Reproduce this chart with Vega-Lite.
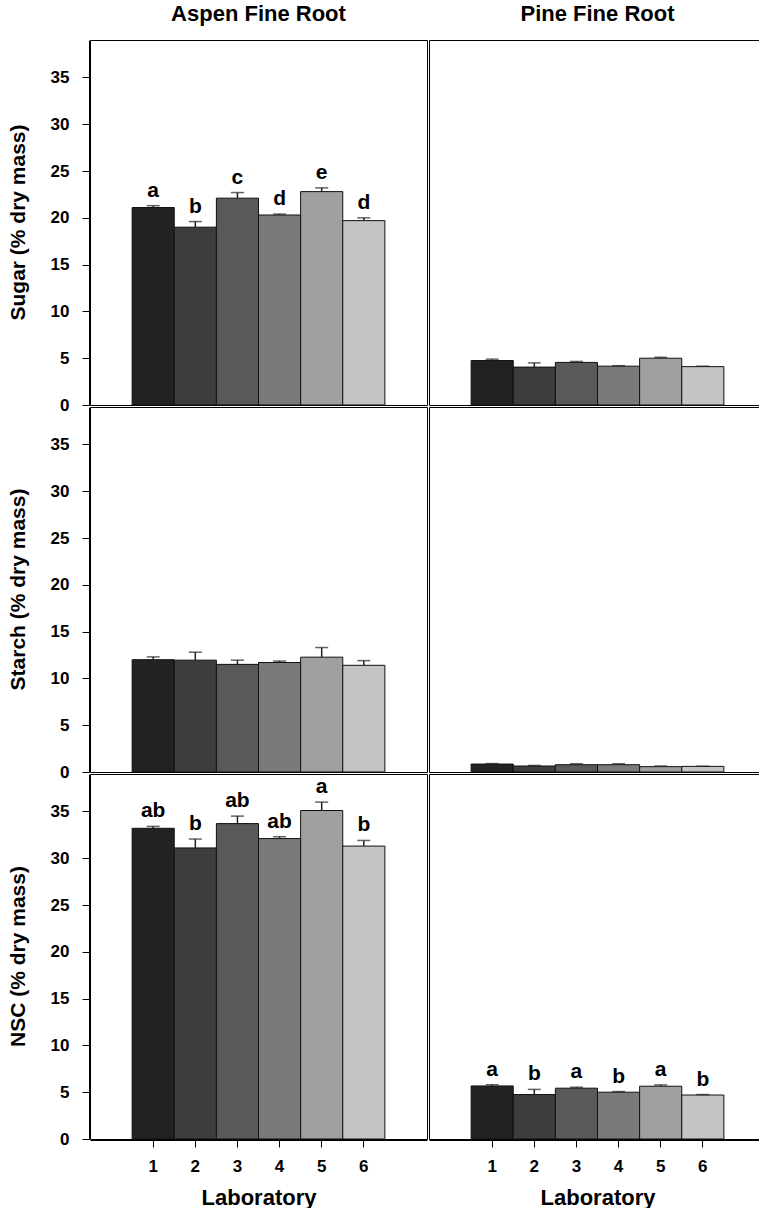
{
  "$schema": "https://vega.github.io/schema/vega-lite/v6.json",
  "padding": {"left": 8, "top": 3, "right": 0, "bottom": 0},
  "background": "white",
  "data": {"values": [
    {"measure": "Sugar (% dry mass)", "tissue": "Aspen Fine Root", "lab": "1", "value": 21.1, "err": 21.3, "letter": "a"},
    {"measure": "Sugar (% dry mass)", "tissue": "Aspen Fine Root", "lab": "2", "value": 19.0, "err": 19.6, "letter": "b"},
    {"measure": "Sugar (% dry mass)", "tissue": "Aspen Fine Root", "lab": "3", "value": 22.1, "err": 22.7, "letter": "c"},
    {"measure": "Sugar (% dry mass)", "tissue": "Aspen Fine Root", "lab": "4", "value": 20.3, "err": 20.4, "letter": "d"},
    {"measure": "Sugar (% dry mass)", "tissue": "Aspen Fine Root", "lab": "5", "value": 22.8, "err": 23.2, "letter": "e"},
    {"measure": "Sugar (% dry mass)", "tissue": "Aspen Fine Root", "lab": "6", "value": 19.7, "err": 20.0, "letter": "d"},
    {"measure": "Sugar (% dry mass)", "tissue": "Pine Fine Root", "lab": "1", "value": 4.75, "err": 4.9, "letter": ""},
    {"measure": "Sugar (% dry mass)", "tissue": "Pine Fine Root", "lab": "2", "value": 4.05, "err": 4.5, "letter": ""},
    {"measure": "Sugar (% dry mass)", "tissue": "Pine Fine Root", "lab": "3", "value": 4.55, "err": 4.65, "letter": ""},
    {"measure": "Sugar (% dry mass)", "tissue": "Pine Fine Root", "lab": "4", "value": 4.15, "err": 4.2, "letter": ""},
    {"measure": "Sugar (% dry mass)", "tissue": "Pine Fine Root", "lab": "5", "value": 5.0, "err": 5.1, "letter": ""},
    {"measure": "Sugar (% dry mass)", "tissue": "Pine Fine Root", "lab": "6", "value": 4.1, "err": 4.15, "letter": ""},
    {"measure": "Starch (% dry mass)", "tissue": "Aspen Fine Root", "lab": "1", "value": 12.0, "err": 12.3, "letter": ""},
    {"measure": "Starch (% dry mass)", "tissue": "Aspen Fine Root", "lab": "2", "value": 11.95, "err": 12.8, "letter": ""},
    {"measure": "Starch (% dry mass)", "tissue": "Aspen Fine Root", "lab": "3", "value": 11.5, "err": 11.95, "letter": ""},
    {"measure": "Starch (% dry mass)", "tissue": "Aspen Fine Root", "lab": "4", "value": 11.7, "err": 11.85, "letter": ""},
    {"measure": "Starch (% dry mass)", "tissue": "Aspen Fine Root", "lab": "5", "value": 12.27, "err": 13.3, "letter": ""},
    {"measure": "Starch (% dry mass)", "tissue": "Aspen Fine Root", "lab": "6", "value": 11.4, "err": 11.9, "letter": ""},
    {"measure": "Starch (% dry mass)", "tissue": "Pine Fine Root", "lab": "1", "value": 0.85, "err": 0.9, "letter": ""},
    {"measure": "Starch (% dry mass)", "tissue": "Pine Fine Root", "lab": "2", "value": 0.64, "err": 0.7, "letter": ""},
    {"measure": "Starch (% dry mass)", "tissue": "Pine Fine Root", "lab": "3", "value": 0.78, "err": 0.88, "letter": ""},
    {"measure": "Starch (% dry mass)", "tissue": "Pine Fine Root", "lab": "4", "value": 0.78, "err": 0.88, "letter": ""},
    {"measure": "Starch (% dry mass)", "tissue": "Pine Fine Root", "lab": "5", "value": 0.57, "err": 0.64, "letter": ""},
    {"measure": "Starch (% dry mass)", "tissue": "Pine Fine Root", "lab": "6", "value": 0.6, "err": 0.62, "letter": ""},
    {"measure": "NSC (% dry mass)", "tissue": "Aspen Fine Root", "lab": "1", "value": 33.2, "err": 33.4, "letter": "ab"},
    {"measure": "NSC (% dry mass)", "tissue": "Aspen Fine Root", "lab": "2", "value": 31.1, "err": 32.05, "letter": "b"},
    {"measure": "NSC (% dry mass)", "tissue": "Aspen Fine Root", "lab": "3", "value": 33.7, "err": 34.5, "letter": "ab"},
    {"measure": "NSC (% dry mass)", "tissue": "Aspen Fine Root", "lab": "4", "value": 32.1, "err": 32.3, "letter": "ab"},
    {"measure": "NSC (% dry mass)", "tissue": "Aspen Fine Root", "lab": "5", "value": 35.1, "err": 36.0, "letter": "a"},
    {"measure": "NSC (% dry mass)", "tissue": "Aspen Fine Root", "lab": "6", "value": 31.3, "err": 31.9, "letter": "b"},
    {"measure": "NSC (% dry mass)", "tissue": "Pine Fine Root", "lab": "1", "value": 5.67, "err": 5.8, "letter": "a"},
    {"measure": "NSC (% dry mass)", "tissue": "Pine Fine Root", "lab": "2", "value": 4.75, "err": 5.3, "letter": "b"},
    {"measure": "NSC (% dry mass)", "tissue": "Pine Fine Root", "lab": "3", "value": 5.43, "err": 5.53, "letter": "a"},
    {"measure": "NSC (% dry mass)", "tissue": "Pine Fine Root", "lab": "4", "value": 5.0, "err": 5.07, "letter": "b"},
    {"measure": "NSC (% dry mass)", "tissue": "Pine Fine Root", "lab": "5", "value": 5.64, "err": 5.78, "letter": "a"},
    {"measure": "NSC (% dry mass)", "tissue": "Pine Fine Root", "lab": "6", "value": 4.7, "err": 4.75, "letter": "b"}
  ]},
  "facet": {
    "row": {"field": "measure", "type": "nominal", "sort": ["Sugar (% dry mass)", "Starch (% dry mass)", "NSC (% dry mass)"],
      "header": {"title": null, "labelAngle": -90, "labelOrient": "left", "labelFontSize": 21, "labelFontWeight": "bold", "labelFont": "Liberation Sans", "labelColor": "black", "labelPadding": 10}},
    "column": {"field": "tissue", "type": "nominal", "sort": ["Aspen Fine Root", "Pine Fine Root"],
      "header": {"title": null, "labelFontSize": 22, "labelFontWeight": "bold", "labelFont": "Liberation Sans", "labelColor": "black", "labelPadding": 13}}
  },
  "spacing": 0,
  "spec": {
    "width": 337,
    "height": 365,
    "layer": [
      {
        "mark": {"type": "bar", "stroke": "#111111", "strokeWidth": 1},
        "encoding": {
          "x": {"field": "lab", "type": "ordinal", "scale": {"paddingInner": 0, "paddingOuter": 1},
            "axis": {"title": "Laboratory", "labelAngle": 0, "tickSize": 7, "labelPadding": 11, "titlePadding": 13, "titleFontSize": 22}},
          "y": {"field": "value", "type": "quantitative", "scale": {"domain": [0, 39], "nice": false},
            "axis": {"title": null, "values": [0, 5, 10, 15, 20, 25, 30, 35], "tickSize": 7, "labelPadding": 13}},
          "color": {"field": "lab", "type": "nominal", "legend": null,
            "scale": {"domain": ["1", "2", "3", "4", "5", "6"], "range": ["#222222", "#3d3d3d", "#595959", "#7a7a7a", "#a0a0a0", "#c4c4c4"]}}
        }
      },
      {
        "mark": {"type": "rule", "color": "#222222", "strokeWidth": 1.5},
        "encoding": {
          "x": {"field": "lab", "type": "ordinal"},
          "y": {"field": "value", "type": "quantitative", "axis": null},
          "y2": {"field": "err"}
        }
      },
      {
        "mark": {"type": "tick", "color": "#222222", "thickness": 1.5, "size": 13},
        "encoding": {
          "x": {"field": "lab", "type": "ordinal"},
          "y": {"field": "err", "type": "quantitative",
            "axis": {"orient": "right", "labels": false, "title": null, "domain": false, "values": [0, 5, 10, 15, 20, 25, 30, 35], "tickSize": 7}}
        }
      },
      {
        "mark": {"type": "text", "baseline": "bottom", "dy": -5, "fontSize": 21, "fontWeight": "bold", "font": "Liberation Sans", "color": "black"},
        "encoding": {
          "x": {"field": "lab", "type": "ordinal"},
          "y": {"field": "err", "type": "quantitative", "axis": null},
          "text": {"field": "letter"}
        }
      }
    ],
    "resolve": {"axis": {"y": "independent"}}
  },
  "config": {
    "view": {"stroke": "black", "strokeWidth": 1},
    "axis": {"grid": false, "domainColor": "black", "tickColor": "black", "labelColor": "black", "titleColor": "black",
      "labelFont": "Liberation Sans", "titleFont": "Liberation Sans", "labelFontWeight": "bold", "titleFontWeight": "bold",
      "labelFontSize": 17, "titleFontSize": 22}
  }
}
